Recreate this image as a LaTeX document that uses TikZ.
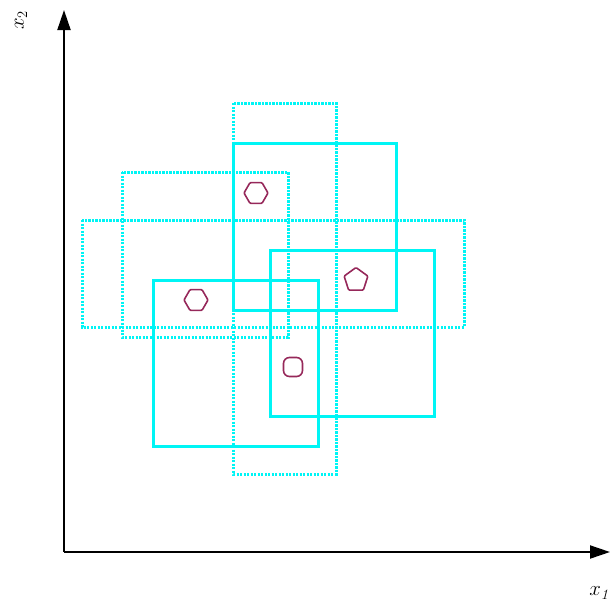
\documentclass[tikz,border=0pt]{standalone}
\usetikzlibrary{arrows.meta,shapes.geometric}
\definecolor{boxcyan}{RGB}{0,245,245}
\definecolor{dotred}{RGB}{150,40,90}
\begin{document}
\begin{tikzpicture}[x=1pt,y=-1pt,
  axis/.style={line width=2pt,-{Triangle[length=20pt,width=13pt]}},
  dotbox/.style={draw=boxcyan,line width=3pt,dash pattern=on 2.2pt off 1.3pt},
  solbox/.style={draw=boxcyan,line width=3pt},
  mark6/.style={draw=dotred,line width=1.6pt,regular polygon,regular polygon sides=6,minimum size=24pt,inner sep=0pt,rounded corners=1pt},
  mark5/.style={draw=dotred,line width=1.6pt,regular polygon,regular polygon sides=5,minimum size=25pt,inner sep=0pt,rounded corners=1pt},
  markc/.style={draw=dotred,line width=1.6pt,rectangle,minimum size=19pt,inner sep=0pt,rounded corners=6pt},
  lab/.style={font=\fontsize{20}{22}\selectfont,inner sep=0pt}]
\useasboundingbox (0,0) rectangle (613,611);
% boxes
\draw[dotbox] (233,103) rectangle (336,474);
\draw[dotbox] (82,220) rectangle (464,327);
\draw[dotbox] (122,172) rectangle (288,337);
\draw[solbox] (233,143) rectangle (396,310);
\draw[solbox] (153,280) rectangle (318,446);
\draw[solbox] (270,250) rectangle (434,416);
% markers
\node[mark6] (m1) at (256,193) {};
\node[mark5] (m2) at (356,280) {};
\node[mark6] (m3) at (196,300) {};
\node[markc] (m4) at (293,367) {};
% axes
\coordinate (o) at (64,552);
\coordinate (xe) at (610,552);
\coordinate (ye) at (64,10);
\draw[axis] (o) -- (xe);
\draw[axis] (o) -- (ye);
\node[lab] (lx) at (600,593) {$x_{\mathit 1}$};
\node[lab,rotate=90] (ly) at (21,20) {$x_2$};
\end{tikzpicture}
\end{document}
